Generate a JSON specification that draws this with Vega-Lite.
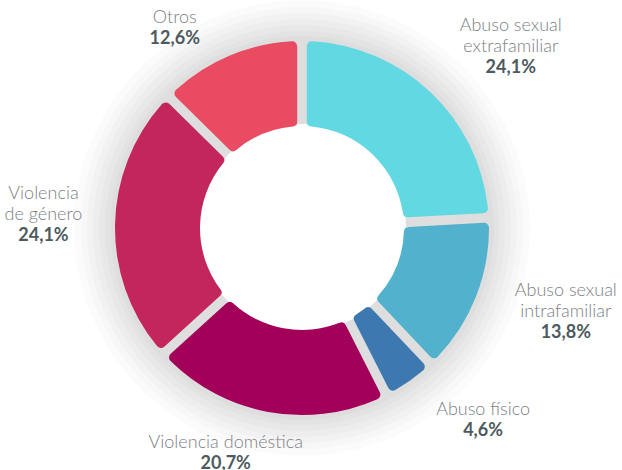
{
  "$schema": "https://vega.github.io/schema/vega-lite/v6.json",
  "width": 604,
  "height": 456,
  "autosize": {"type": "none"},
  "padding": {"left": 0, "top": 0, "right": 18, "bottom": 14},
  "background": "white",
  "config": {"view": {"stroke": null}},
  "datasets": {
    "d": [
      {"cat": "Abuso sexual extrafamiliar", "l1": "Abuso sexual", "l2": "extrafamiliar", "pct": 24.1, "pctText": "24,1%", "orden": 1},
      {"cat": "Abuso sexual intrafamiliar", "l1": "Abuso sexual", "l2": "intrafamiliar", "pct": 13.8, "pctText": "13,8%", "orden": 2},
      {"cat": "Abuso físico", "l1": "", "l2": "Abuso físico", "pct": 4.6, "pctText": "4,6%", "orden": 3},
      {"cat": "Violencia doméstica", "l1": "", "l2": "Violencia doméstica", "pct": 20.7, "pctText": "20,7%", "orden": 4},
      {"cat": "Violencia de género", "l1": "Violencia", "l2": "de género", "pct": 24.1, "pctText": "24,1%", "orden": 5},
      {"cat": "Otros", "l1": "", "l2": "Otros", "pct": 12.6, "pctText": "12,6%", "orden": 6}
    ],
    "one": [{}]
  },
  "data": {"name": "d"},
  "layer": [
    {"data": {"name": "one"}, "mark": {"type": "arc", "theta": 0, "theta2": 6.2832, "innerRadius": 104, "outerRadius": 228, "fill": "#000", "opacity": 0.014}, "encoding": {}},
    {"data": {"name": "one"}, "mark": {"type": "arc", "theta": 0, "theta2": 6.2832, "innerRadius": 104, "outerRadius": 221, "fill": "#000", "opacity": 0.016}, "encoding": {}},
    {"data": {"name": "one"}, "mark": {"type": "arc", "theta": 0, "theta2": 6.2832, "innerRadius": 104, "outerRadius": 215, "fill": "#000", "opacity": 0.018}, "encoding": {}},
    {"data": {"name": "one"}, "mark": {"type": "arc", "theta": 0, "theta2": 6.2832, "innerRadius": 104, "outerRadius": 209, "fill": "#000", "opacity": 0.02}, "encoding": {}},
    {"data": {"name": "one"}, "mark": {"type": "arc", "theta": 0, "theta2": 6.2832, "innerRadius": 104, "outerRadius": 203, "fill": "#000", "opacity": 0.02}, "encoding": {}},
    {"data": {"name": "one"}, "mark": {"type": "arc", "theta": 0, "theta2": 6.2832, "innerRadius": 104, "outerRadius": 197, "fill": "#000", "opacity": 0.02}, "encoding": {}},
    {"data": {"name": "one"}, "mark": {"type": "arc", "theta": 0, "theta2": 6.2832, "innerRadius": 104, "outerRadius": 192, "fill": "#000", "opacity": 0.02}, "encoding": {}},
    {
      "mark": {"type": "arc", "innerRadius": 102, "outerRadius": 187, "padAngle": 0.045, "cornerRadius": 5},
      "encoding": {
        "theta": {"field": "pct", "type": "quantitative", "stack": true},
        "order": {"field": "orden", "type": "quantitative"},
        "color": {
          "field": "cat", "type": "nominal", "legend": null,
          "scale": {
            "domain": ["Abuso sexual extrafamiliar", "Abuso sexual intrafamiliar", "Abuso físico", "Violencia doméstica", "Violencia de género", "Otros"],
            "range": ["#62D8E3", "#52B1CC", "#3D79B0", "#A3005A", "#C3265C", "#E84B62"]
          }
        }
      }
    },
    {
      "mark": {
        "type": "text", "radius": 228, "font": "Lato", "fontSize": 18, "fontWeight": 300,
        "color": "#7b8085", "align": "center", "baseline": "bottom",
        "dx": {"expr": "sin((datum.pct_start + datum.pct_end) / 199.8 * 2 * PI) * (sin((datum.pct_start + datum.pct_end) / 199.8 * 2 * PI) > 0 ? 44 : 30) + (sin((datum.pct_start + datum.pct_end) / 199.8 * 2 * PI) > 0 ? 30 : -30) * abs(cos((datum.pct_start + datum.pct_end) / 199.8 * 2 * PI))"},
        "dy": {"expr": "(cos((datum.pct_start + datum.pct_end) / 199.8 * 2 * PI) < 0 ? 13 * abs(sin((datum.pct_start + datum.pct_end) / 199.8 * 2 * PI)) - 3 : (sin((datum.pct_start + datum.pct_end) / 199.8 * 2 * PI) > 0 ? -12 * sin((datum.pct_start + datum.pct_end) / 199.8 * 2 * PI) * cos((datum.pct_start + datum.pct_end) / 199.8 * 2 * PI) : 25 * abs(sin((datum.pct_start + datum.pct_end) / 199.8 * 2 * PI)) * cos((datum.pct_start + datum.pct_end) / 199.8 * 2 * PI))) - 21"}
      },
      "encoding": {
        "theta": {"field": "pct", "type": "quantitative", "stack": true},
        "order": {"field": "orden", "type": "quantitative"},
        "text": {"field": "l1", "type": "nominal"}
      }
    },
    {
      "mark": {
        "type": "text", "radius": 228, "font": "Lato", "fontSize": 18, "fontWeight": 300,
        "color": "#7b8085", "align": "center", "baseline": "bottom",
        "dx": {"expr": "sin((datum.pct_start + datum.pct_end) / 199.8 * 2 * PI) * (sin((datum.pct_start + datum.pct_end) / 199.8 * 2 * PI) > 0 ? 44 : 30) + (sin((datum.pct_start + datum.pct_end) / 199.8 * 2 * PI) > 0 ? 30 : -30) * abs(cos((datum.pct_start + datum.pct_end) / 199.8 * 2 * PI))"},
        "dy": {"expr": "(cos((datum.pct_start + datum.pct_end) / 199.8 * 2 * PI) < 0 ? 13 * abs(sin((datum.pct_start + datum.pct_end) / 199.8 * 2 * PI)) - 3 : (sin((datum.pct_start + datum.pct_end) / 199.8 * 2 * PI) > 0 ? -12 * sin((datum.pct_start + datum.pct_end) / 199.8 * 2 * PI) * cos((datum.pct_start + datum.pct_end) / 199.8 * 2 * PI) : 25 * abs(sin((datum.pct_start + datum.pct_end) / 199.8 * 2 * PI)) * cos((datum.pct_start + datum.pct_end) / 199.8 * 2 * PI)))"}
      },
      "encoding": {
        "theta": {"field": "pct", "type": "quantitative", "stack": true},
        "order": {"field": "orden", "type": "quantitative"},
        "text": {"field": "l2", "type": "nominal"}
      }
    },
    {
      "mark": {
        "type": "text", "radius": 228, "font": "Lato", "fontSize": 18, "fontWeight": "bold",
        "color": "#4d5a5e", "align": "center", "baseline": "top",
        "dx": {"expr": "sin((datum.pct_start + datum.pct_end) / 199.8 * 2 * PI) * (sin((datum.pct_start + datum.pct_end) / 199.8 * 2 * PI) > 0 ? 44 : 30) + (sin((datum.pct_start + datum.pct_end) / 199.8 * 2 * PI) > 0 ? 30 : -30) * abs(cos((datum.pct_start + datum.pct_end) / 199.8 * 2 * PI))"},
        "dy": {"expr": "(cos((datum.pct_start + datum.pct_end) / 199.8 * 2 * PI) < 0 ? 13 * abs(sin((datum.pct_start + datum.pct_end) / 199.8 * 2 * PI)) - 3 : (sin((datum.pct_start + datum.pct_end) / 199.8 * 2 * PI) > 0 ? -12 * sin((datum.pct_start + datum.pct_end) / 199.8 * 2 * PI) * cos((datum.pct_start + datum.pct_end) / 199.8 * 2 * PI) : 25 * abs(sin((datum.pct_start + datum.pct_end) / 199.8 * 2 * PI)) * cos((datum.pct_start + datum.pct_end) / 199.8 * 2 * PI))) + 3"}
      },
      "encoding": {
        "theta": {"field": "pct", "type": "quantitative", "stack": true},
        "order": {"field": "orden", "type": "quantitative"},
        "text": {"field": "pctText", "type": "nominal"}
      }
    }
  ]
}
